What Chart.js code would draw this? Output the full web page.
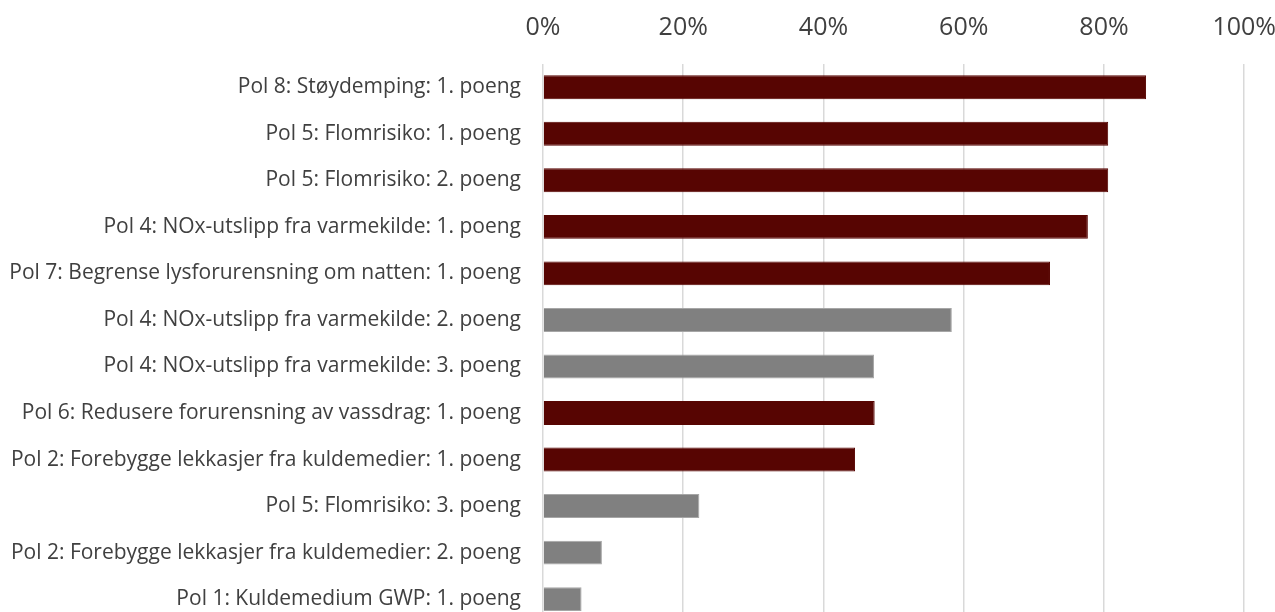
<!DOCTYPE html>
<html>
<head>
<meta charset="utf-8">
<script src="https://cdn.jsdelivr.net/npm/chart.js@4/dist/chart.umd.min.js"></script>
<style>
  html, body { margin: 0; padding: 0; background: #ffffff; overflow: hidden; }
  #wrap { position: relative; width: 1275px; height: 612px; overflow: hidden; }
</style>
</head>
<body>
<div id="wrap"><canvas id="chart" width="1297" height="657"></canvas></div>
<script>
// Share of projects achieving each criterion point
const categories = [
  "Pol 8: Støydemping: 1. poeng",
  "Pol 5: Flomrisiko: 1. poeng",
  "Pol 5: Flomrisiko: 2. poeng",
  "Pol 4: NOx-utslipp fra varmekilde: 1. poeng",
  "Pol 7: Begrense lysforurensning om natten: 1. poeng",
  "Pol 4: NOx-utslipp fra varmekilde: 2. poeng",
  "Pol 4: NOx-utslipp fra varmekilde: 3. poeng",
  "Pol 6: Redusere forurensning av vassdrag: 1. poeng",
  "Pol 2: Forebygge lekkasjer fra kuldemedier: 1. poeng",
  "Pol 5: Flomrisiko: 3. poeng",
  "Pol 2: Forebygge lekkasjer fra kuldemedier: 2. poeng",
  "Pol 1: Kuldemedium GWP: 1. poeng"
];
const shares = [86.0, 80.6, 80.6, 77.7, 72.3, 58.3, 47.2, 47.3, 44.5, 22.3, 8.4, 5.5];
// 1 = highlighted criterion point, 0 = other points
const highlighted = [1, 1, 1, 1, 1, 0, 0, 1, 1, 0, 0, 0];
const tickValues = [0, 20, 40, 60, 80, 100];

const RED = "#570502";
const GREY = "#808080";
const textColor = "#404040";

const barColors = highlighted.map(f => f ? RED : GREY);
const borderColors = highlighted.map(f => f ? RED : "#a6a6a6");

new Chart(document.getElementById("chart"), {
  type: "bar",
  data: {
    labels: categories,
    datasets: [{
      data: shares,
      backgroundColor: barColors,
      borderColor: borderColors,
      borderWidth: 1,
      barPercentage: 0.514,
      categoryPercentage: 1.0
    }]
  },
  options: {
    indexAxis: "y",
    responsive: false,
    animation: false,
    layout: { padding: 0 },
    plugins: { legend: { display: false }, tooltip: { enabled: false } },
    scales: {
      x: {
        position: "top",
        min: 0,
        max: 100,
        afterBuildTicks: (s) => { s.ticks = tickValues.map(v => ({ value: v })); },
        afterFit: (s) => { s.height = 64; },
        grid: { color: "#d9d9d9", lineWidth: 1.5, drawTicks: false },
        border: { display: false },
        ticks: {
          color: textColor,
          padding: 21,
          font: { family: "Open Sans", size: 25 },
          callback: (v) => v + "%"
        }
      },
      y: {
        afterFit: (s) => { s.width = 543; },
        grid: { display: false, drawTicks: false },
        border: { display: false },
        ticks: {
          color: textColor,
          padding: 22,
          font: { family: "Open Sans", size: 21 }
        }
      }
    }
  }
});
</script>
</body>
</html>
